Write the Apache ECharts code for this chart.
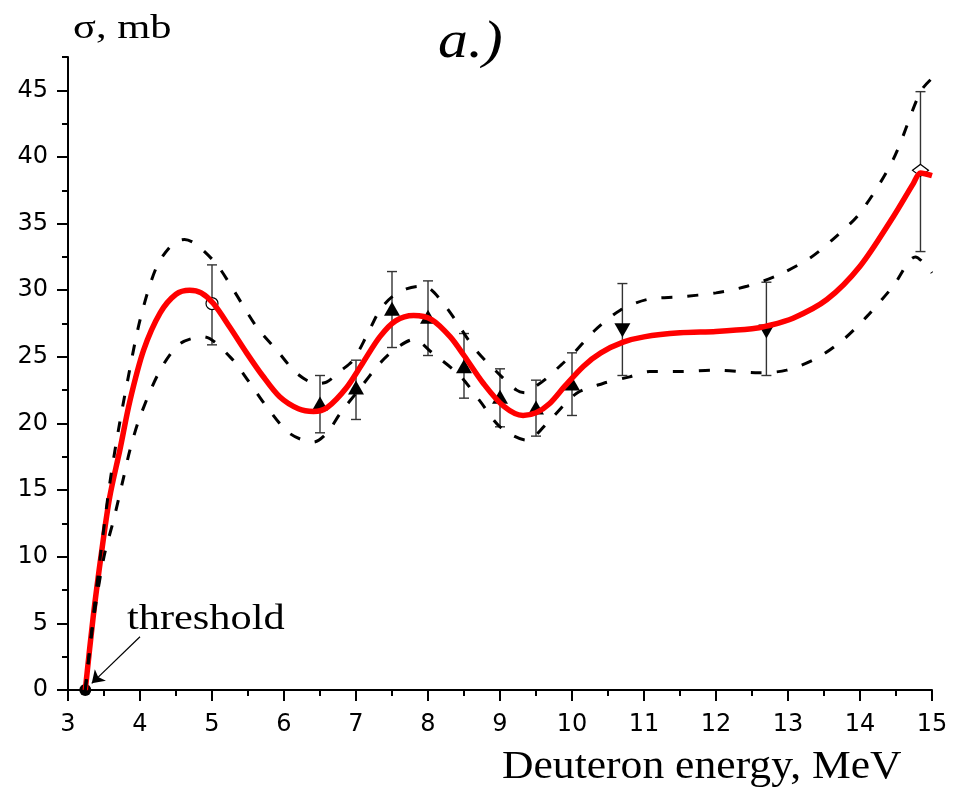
<!DOCTYPE html>
<html><head><meta charset="utf-8">
<script src="https://cdn.jsdelivr.net/npm/echarts@6/dist/echarts.min.js"></script>
<style>html,body{margin:0;padding:0;background:#fff}#c{width:956px;height:789px}</style>
</head><body><div id="c"></div><script>
// ---- data ----
const xTickLabels = [3,4,5,6,7,8,9,10,11,12,13,14,15];
const yTickLabels = [0,5,10,15,20,25,30,35,40,45];

const fitX = [3.24,3.35,3.47,3.58,3.72,3.86,4.05,4.28,4.5,4.69,4.85,5.02,5.25,5.48,5.7,5.94,6.2,6.41,6.6,6.87,7.1,7.33,7.55,7.8,8.05,8.31,8.5,8.77,9.05,9.32,9.5,9.69,9.9,10.16,10.4,10.71,11.0,11.5,12.0,12.5,12.7,13.07,13.54,14.0,14.46,14.74,14.84,15.0];
const fitY = [0,5.5,10.5,14.5,18.0,21.7,25.5,28.3,29.7,30.0,29.8,29.0,27.2,25.3,23.6,22.0,21.1,20.9,21.2,22.7,24.6,26.5,27.7,28.1,27.8,26.5,25.1,23.0,21.3,20.6,20.8,21.5,22.8,24.3,25.3,26.1,26.5,26.8,26.9,27.1,27.3,27.9,29.3,31.8,35.5,38.0,38.8,38.6];

const upperX = [3.24,3.35,3.46,3.58,3.7,3.82,4.0,4.23,4.46,4.62,4.79,5.07,5.3,5.62,5.9,6.18,6.45,6.59,6.8,6.96,7.15,7.33,7.5,7.7,7.9,8.03,8.2,8.35,8.65,8.95,9.23,9.35,9.5,9.65,9.85,10.02,10.3,10.67,11.04,11.5,12.0,12.43,12.85,13.3,13.62,14.0,14.46,14.84,15.0];
const upperY = [0,5.5,10.5,15.5,19.5,23.0,27.75,31.75,33.5,33.8,33.4,31.9,30.0,27.25,25.5,23.75,23.0,23.1,24.0,24.75,26.6,28.5,29.5,30.1,30.3,30.1,29.1,28.0,25.6,23.9,22.5,22.3,22.8,23.4,24.4,25.25,26.9,28.5,29.3,29.5,29.8,30.3,31.1,32.4,33.8,35.8,39.8,44.9,45.9];

const lowerX = [3.24,3.36,3.5,3.64,3.77,3.86,4.0,4.28,4.56,4.88,5.25,5.53,5.76,6.08,6.41,6.6,6.78,7.05,7.33,7.55,7.8,8.07,8.44,8.72,9.0,9.37,9.69,10.06,10.43,10.8,11.08,11.5,12.0,12.6,12.98,13.4,13.77,14.09,14.46,14.77,15.0];
const lowerY = [0,5.5,10.0,12.9,15.9,18.0,20.5,24.0,26.0,26.5,25.0,23.0,21.25,19.25,18.6,19.3,20.75,22.6,24.5,25.6,26.3,25.25,23.6,21.7,19.75,18.75,20.25,22.25,23.0,23.5,23.9,23.9,24.0,23.8,24.0,24.9,26.3,28.0,30.3,32.5,31.3];

const thresholdX = [3.24], thresholdY = [0];
const openCircleX = [5.0], openCircleY = [29.0];
const triUpX = [6.5,7.0,7.5,8.0,8.5,9.0,9.5,10.0];
const triUpY = [21.5,22.7,28.6,28.0,24.3,22.0,21.2,23.0];
const triDownX = [10.7,12.7];
const triDownY = [27.0,26.9];
const diamondX = [14.84], diamondY = [39.0];

const errX    = [5.0, 6.5, 7.0, 7.5, 8.0, 8.5, 9.0, 9.5, 10.0, 10.7, 12.7, 14.84];
const errLow  = [25.9,19.3,20.3,25.7,25.1,21.9,19.75,19.05,20.6,23.6,23.6,32.9];
const errHigh = [31.9,23.6,24.75,31.4,30.7,26.75,24.1,23.25,25.3,30.5,30.6,44.9];

const arrowFrom = [4.0, 4.0], arrowTo = [3.33, 0.5];

// ---- build ----
const zip = (a,b) => a.map((v,i)=>[v,b[i]]);
const chart = echarts.init(document.getElementById('c'), null, {renderer:'canvas'});
const axisCol = '#000';
const tickFont = {fontFamily:'DejaVu Sans', fontSize:24, color:'#000'};

const option = {
  animation:false,
  backgroundColor:'#fff',
  grid:{left:68, right:24, top:57, bottom:99, containLabel:false},
  xAxis:{
    type:'value', min:3, max:15, interval:1,
    axisLine:{show:true, onZero:false, lineStyle:{color:axisCol, width:2}},
    axisTick:{show:true, length:11, lineStyle:{color:axisCol, width:2}},
    minorTick:{show:true, splitNumber:2, length:6, lineStyle:{color:axisCol, width:2}},
    axisLabel:Object.assign({margin:23, formatter:v=>xTickLabels.includes(v)?String(v):''}, tickFont),
    splitLine:{show:false}
  },
  yAxis:[
    {type:'value', min:0, max:47.5, interval:2.5, position:'left',
     axisLine:{show:true, onZero:false, lineStyle:{color:axisCol, width:2}},
     axisTick:{show:true, length:6, lineStyle:{color:axisCol, width:2}},
     axisLabel:{show:false}, splitLine:{show:false}},
    {type:'value', min:0, max:47.5, interval:5, position:'left', offset:0,
     axisLine:{show:false},
     axisTick:{show:true, length:11, customValues:yTickLabels, lineStyle:{color:axisCol, width:2}},
     axisLabel:Object.assign({margin:20, customValues:yTickLabels}, tickFont),
     splitLine:{show:false}}
  ],
  series:[
    {type:'custom', z:2, clip:false,
     data: errX.map((x,i)=>[x, errLow[i], errHigh[i]]),
     encode:{x:0, y:[1,2]},
     renderItem:function(params, api){
       const x = api.value(0), lo = api.value(1), hi = api.value(2);
       const p1 = api.coord([x, lo]), p2 = api.coord([x, hi]);
       const hw = 5, st = {stroke:'#333', lineWidth:1.4};
       return {type:'group', children:[
         {type:'line', shape:{x1:p1[0], y1:p1[1], x2:p2[0], y2:p2[1]}, style:st},
         {type:'line', shape:{x1:p1[0]-hw, y1:p1[1], x2:p1[0]+hw, y2:p1[1]}, style:st},
         {type:'line', shape:{x1:p2[0]-hw, y1:p2[1], x2:p2[0]+hw, y2:p2[1]}, style:st}
       ]};
     }},
    {type:'scatter', z:3, data:zip(thresholdX, thresholdY), symbol:'circle', symbolSize:12,
     itemStyle:{color:'#000', opacity:1},
     markLine:{silent:true, symbol:['none','arrow'], symbolSize:12, precision:4,
       lineStyle:{color:'#000', width:1.2, type:'solid', opacity:1}, label:{show:false},
       emphasis:{disabled:true},
       data:[[{coord:arrowFrom},{coord:arrowTo}]]}},
    {type:'scatter', z:3, data:zip(openCircleX, openCircleY), symbol:'circle', symbolSize:12,
     itemStyle:{color:'#fff', borderColor:'#000', borderWidth:1.2, opacity:1}},
    {type:'scatter', z:3, data:zip(triUpX, triUpY), symbol:'triangle', symbolSize:[16,14],
     itemStyle:{color:'#000', opacity:1}},
    {type:'scatter', z:3, data:zip(triDownX, triDownY), symbol:'triangle', symbolRotate:180, symbolSize:[16,14],
     itemStyle:{color:'#000', opacity:1}},
    {type:'scatter', z:3, data:zip(diamondX, diamondY), symbol:'diamond', symbolSize:[16,12],
     itemStyle:{color:'#fff', borderColor:'#000', borderWidth:1.2, opacity:1}},
    {type:'line', z:4, data:zip(fitX, fitY), smooth:0.3, showSymbol:false, clip:false,
     lineStyle:{color:'#ff0000', width:5.5}},
    {type:'line', z:5, data:zip(upperX, upperY), smooth:0.3, showSymbol:false, clip:false,
     lineStyle:{color:'#000', width:3, type:[11,15]}},
    {type:'line', z:5, data:zip(lowerX, lowerY), smooth:0.3, showSymbol:false, clip:false,
     lineStyle:{color:'#000', width:3, type:[11,15]}}
  ],
  graphic:[
    {type:'text', x:73, y:29, scaleX:1.25, style:{text:'σ, mb', font:'34px "Liberation Serif"', fill:'#000', align:'left', verticalAlign:'middle'}},
    {type:'text', x:438, y:43, scaleX:1.15, style:{text:'a.)', font:'italic 52px "Liberation Serif"', fill:'#000', align:'left', verticalAlign:'middle'}},
    {type:'text', x:127, y:620, scaleX:1.21, style:{text:'threshold', font:'35px "Liberation Serif"', fill:'#000', align:'left', verticalAlign:'middle'}},
    {type:'text', x:502, y:767, scaleX:1.09, style:{text:'Deuteron energy, MeV', font:'40px "Liberation Serif"', fill:'#000', align:'left', verticalAlign:'middle'}}
  ]
};
chart.setOption(option);
</script></body></html>
